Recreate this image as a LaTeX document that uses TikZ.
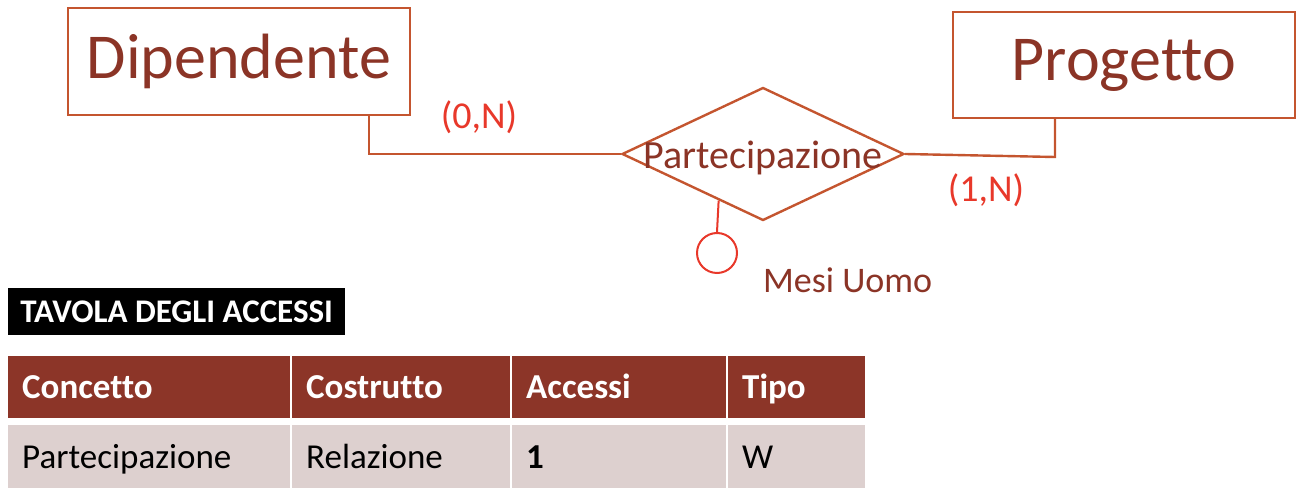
\documentclass[tikz,border=0pt]{standalone}
\usepackage{fontspec}
\setmainfont{Carlito}[Ligatures=NoCommon]
\usetikzlibrary{shapes.geometric,calc}
\definecolor{erline}{HTML}{C4552F}
\definecolor{ertext}{HTML}{8B3426}
\definecolor{card}{HTML}{E8382A}
\definecolor{thead}{HTML}{8C3528}
\definecolor{tbody}{HTML}{DDD0CF}
\tikzset{
  entity/.style={draw=erline,line width=2.4pt,rectangle,inner sep=0pt,text=ertext,
    font=\fontsize{64}{70}\selectfont},
  conn/.style={draw=erline,line width=2.4pt},
  cardlbl/.style={text=card,font=\fontsize{38}{44}\selectfont,inner sep=0pt},
  cell/.style={rectangle,anchor=north west,inner xsep=14pt,inner ysep=0pt,
    text height=31pt,text depth=8pt,align=left},
  headcell/.style={cell,fill=thead,text=white,minimum height=62pt,
    font=\bfseries\fontsize{35}{40}\selectfont},
  bodycell/.style={cell,fill=tbody,text=black,minimum height=63pt,
    font=\fontsize{35}{40}\selectfont},
}
\begin{document}
\begin{tikzpicture}[x=1pt,y=-1pt]
\useasboundingbox (0,0) rectangle (1302,502);
% entities
\node[entity,minimum width=342pt,minimum height=107pt] (dip) at (239,61.5) {Dipendente};
\node[entity,minimum width=342pt,minimum height=106pt] (prog) at (1124,65) {Progetto};
% relationship
\node[diamond,draw=erline,line width=2.4pt,minimum width=282pt,minimum height=133pt,inner sep=0pt,
  label={[text=ertext,font=\fontsize{40}{46}\selectfont,inner sep=0pt,yshift=-4pt]center:Partecipazione}] (rel) at (763,154) {};
% connectors
\draw[conn] (rel.west) -| ($(dip.south west)+(302,0)$);
\coordinate (pj) at (1055,157);
\draw[conn] (rel.east) -- (pj) -- (pj |- prog.south);
% cardinalities
\node[cardlbl] (c1) at (479,117) {(0,N)};
\node[cardlbl] (c2) at (986,190) {(1,N)};
% attribute
\node[circle,draw=card,line width=2pt,minimum size=40pt,inner sep=0pt] (att) at (717,253) {};
\coordinate (ap) at ($(rel.west)!0.688!(rel.south)$);
\draw[draw=card,line width=2pt] (att.north) -- (ap);
\node[anchor=west,text=ertext,font=\fontsize{36}{42}\selectfont,inner sep=0pt] (attl) at (763,280) {Mesi Uomo};
% title
\node[rectangle,fill=black,text=white,anchor=north west,minimum width=337pt,minimum height=47pt,inner sep=0pt,
  font=\bfseries\fontsize{33}{38}\selectfont] (title) at (8,288) {TAVOLA DEGLI ACCESSI};
% table header
\node[headcell,text width=254pt] (h1) at (8,356) {Concetto};
\node[headcell,text width=190pt] (h2) at (292,356) {Costrutto};
\node[headcell,text width=186pt] (h3) at (512,356) {Accessi};
\node[headcell,text width=109pt] (h4) at (728,356) {Tipo};
% table body
\node[bodycell,text width=254pt] (b1) at (8,425) {Partecipazione};
\node[bodycell,text width=190pt] (b2) at (292,425) {Relazione};
\node[bodycell,text width=186pt] (b3) at (512,425) {\bfseries 1};
\node[bodycell,text width=109pt] (b4) at (728,425) {W};
\end{tikzpicture}
\end{document}
